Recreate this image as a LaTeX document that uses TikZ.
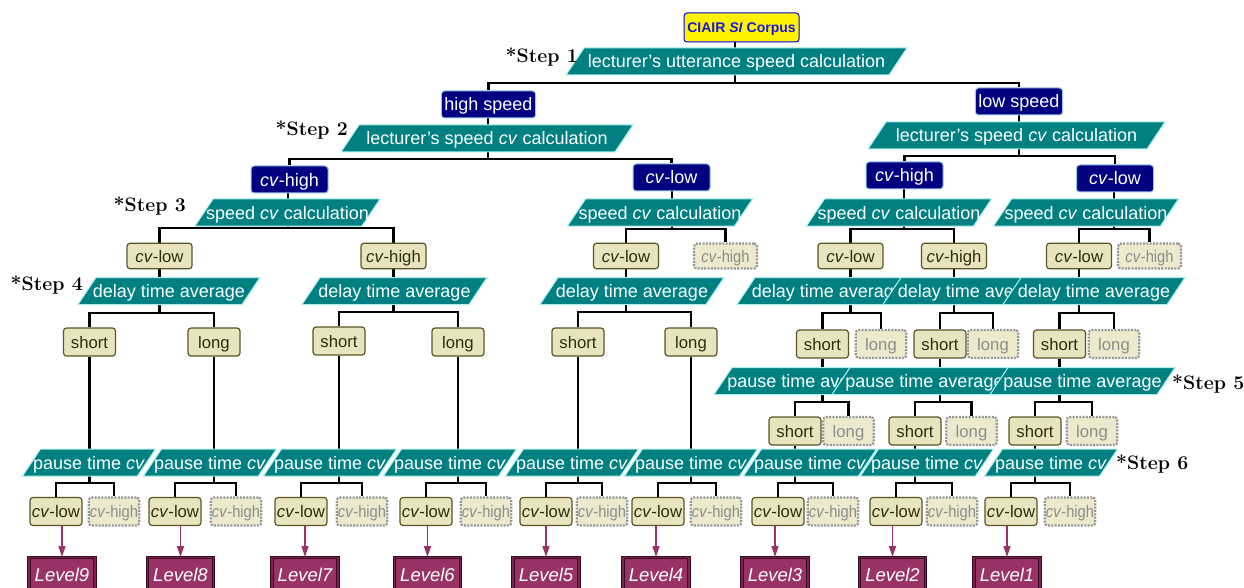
\documentclass[tikz,border=0pt]{standalone}
\usepackage{fontspec}
\newfontfamily\arial{Liberation Sans}
\usetikzlibrary{arrows.meta,backgrounds}
\definecolor{paraT}{RGB}{0,128,128}
\definecolor{paraB}{RGB}{170,240,240}
\definecolor{navyF}{RGB}{0,0,128}
\definecolor{navyB}{RGB}{150,200,235}
\definecolor{beigeF}{RGB}{232,228,190}
\definecolor{beigeB}{RGB}{90,85,40}
\definecolor{beigeT}{RGB}{45,45,15}
\definecolor{ghostF}{RGB}{236,233,205}
\definecolor{ghostB}{RGB}{150,150,150}
\definecolor{ghostT}{RGB}{140,140,140}
\definecolor{levelF}{RGB}{153,51,102}
\definecolor{levelD}{RGB}{55,10,35}
\definecolor{levelL}{RGB}{125,35,80}
\definecolor{rootB}{RGB}{0,0,230}
\definecolor{rootT}{RGB}{25,25,220}
\newcommand\ghtext{\scalebox{0.88}[1]{\textit{cv}-high}}
\newcommand\para[5]{%
  \filldraw[parastyle] ({#2-#4/2},{#3+13.5}) -- ({#2+#4/2-18},{#3+13.5}) -- ({#2+#4/2},{#3-13.5}) -- ({#2-#4/2+18},{#3-13.5}) -- cycle;
  \node[paratext] (#1) at (#2,#3) {#5};}
\begin{document}
\begin{tikzpicture}[x=1pt,y=-1pt,
  parastyle/.style={fill=paraT,draw=paraB,line width=1pt},
  paratext/.style={text=white,font=\arial\fontsize{18}{20}\selectfont,inner sep=0pt,minimum height=27pt,text height=14pt,text depth=1pt},
  rootbox/.style={fill=yellow,draw=rootB,text=rootT,rounded corners=3pt,minimum width=115pt,minimum height=29pt,inner sep=0pt,line width=1pt,text height=11pt,text depth=0.5pt,font=\arial\bfseries\fontsize{14}{16}\selectfont},
  navy/.style={fill=navyF,draw=navyB,text=white,rounded corners=3pt,minimum width=77pt,minimum height=27pt,inner xsep=3pt,inner ysep=0pt,line width=1pt,text height=14pt,text depth=1pt,font=\arial\fontsize{18}{20}\selectfont},
  beige/.style={fill=beigeF,draw=beigeB,text=beigeT,rounded corners=3pt,minimum width=52pt,minimum height=28pt,inner xsep=1pt,inner ysep=0pt,line width=1.2pt,text height=12.5pt,text depth=0.5pt,font=\arial\fontsize{16.7}{18}\selectfont},
  ghost/.style={beige,fill=ghostF,draw=ghostB,text=ghostT,dash pattern=on 2pt off 1.3pt,line width=2.2pt,minimum width=50.5pt},
  beigethree/.style={beige,minimum width=65pt,minimum height=25.5pt},
  ghostthree/.style={ghost,minimum width=63pt,minimum height=25pt},
  levelbox/.style={fill=levelF,draw=levelD,double=levelL,double distance=1.6pt,line width=0.9pt,text=white,minimum width=66pt,minimum height=36pt,inner sep=0pt,anchor=north,text height=14pt,text depth=1pt,font=\arial\itshape\fontsize{18.5}{20}\selectfont},
  stepl/.style={font=\bfseries\addfontfeatures{FakeBold=1.3}\fontsize{19.5}{20}\selectfont,inner sep=0pt},
  conn/.style={black,line width=2.2pt},
  arr/.style={levelF,line width=1.5pt,-{Triangle[length=11pt,width=7pt]}}]
\useasboundingbox (0,0) rectangle (1244,588);
\clip (0,0) rectangle (1244,588);

% root and step 1
\node[rootbox] (root) at (741.5,27.5) {CIAIR \textit{SI} Corpus};
\para{P1}{736.5}{61.5}{341}{lecturer’s utterance speed calculation}
\node[stepl,anchor=east] (s1) at (578,57) {*Step 1};

\node[navy] (hs) at (488.5,104.5) {high speed};
\node[navy] (ls) at (1019,101.5) {low speed};

% step 2
\para{P2L}{487}{138.5}{292}{lecturer’s speed \textit{cv} calculation}
\para{P2R}{1016.5}{135.5}{297}{lecturer’s speed \textit{cv} calculation}
\node[stepl,anchor=east] (s2) at (348,130) {*Step 2};

\node[navy] (cvhL) at (289.5,179.5) {\textit{cv}-high};
\node[navy] (cvlL) at (671.5,177.5) {\textit{cv}-low};
\node[navy] (cvhR) at (904.5,175.5) {\textit{cv}-high};
\node[navy] (cvlR) at (1115,178.5) {\textit{cv}-low};

% step 3
\para{P3a}{287.5}{212.5}{185}{speed \textit{cv} calculation}
\para{P3b}{660}{212.5}{185}{speed \textit{cv} calculation}
\para{P3c}{899}{212.5}{185}{speed \textit{cv} calculation}
\para{P3d}{1086}{212.5}{185}{speed \textit{cv} calculation}
\node[stepl,anchor=east] (s3) at (186,206) {*Step 3};

\node[beigethree] (b3a) at (159.5,256) {\textit{cv}-low};
\node[beigethree] (b3b) at (393.5,256) {\textit{cv}-high};
\node[beigethree] (b3c) at (626,256) {\textit{cv}-low};
\node[ghostthree] (b3d) at (725.5,256) {\ghtext};
\node[beigethree] (b3e) at (850.5,256) {\textit{cv}-low};
\node[beigethree] (b3f) at (954,256) {\textit{cv}-high};
\node[beigethree] (b3g) at (1079,256) {\textit{cv}-low};
\node[ghostthree] (b3h) at (1149.5,256) {\ghtext};

% step 4
\para{P4a}{169}{291}{182}{delay time average}
\para{P4b}{394.5}{291}{185}{delay time average}
\para{P4c}{632}{291}{184}{delay time average}
\para{P4d}{828}{291}{182}{delay time average}
\para{P4e}{974}{291}{182}{delay time average}
\para{P4f}{1094}{291}{182}{delay time average}
\node[stepl,anchor=east] (s4) at (83,285) {*Step 4};

\node[beige] (b4a) at (89.5,342) {short};
\node[beige] (b4b) at (214,342) {long};
\node[beige] (b4c) at (339,341) {short};
\node[beige] (b4d) at (458,342) {long};
\node[beige] (b4e) at (578,342) {short};
\node[beige] (b4f) at (691,342) {long};
\node[beige] (b4g) at (822.5,344) {short};
\node[ghost] (b4h) at (881,344) {long};
\node[beige] (b4i) at (940,344) {short};
\node[ghost] (b4j) at (993,344) {long};
\node[beige] (b4k) at (1059.5,344) {short};
\node[ghost] (b4l) at (1114,344) {long};

% step 5
\para{R1}{806.5}{381}{185}{pause time average}
\para{R2}{924.5}{381}{185}{pause time average}
\para{R3}{1082.5}{381}{185}{pause time average}
\node[stepl,anchor=west] (s5) at (1172,384) {*Step 5};

\node[beige] (b5a) at (795,431) {short};
\node[ghost] (b5b) at (848.5,431) {long};
\node[beige] (b5c) at (915,431) {short};
\node[ghost] (b5d) at (971.5,431) {long};
\node[beige] (b5e) at (1035,431) {short};
\node[ghost] (b5f) at (1092,431) {long};

% step 6
\para{Q1}{89}{462.5}{133}{pause time \textit{cv}}
\para{Q2}{210}{462.5}{133}{pause time \textit{cv}}
\para{Q3}{330}{462.5}{133}{pause time \textit{cv}}
\para{Q4}{450}{462.5}{133}{pause time \textit{cv}}
\para{Q5}{572}{462.5}{133}{pause time \textit{cv}}
\para{Q6}{691}{462.5}{133}{pause time \textit{cv}}
\para{Q7}{810}{462.5}{133}{pause time \textit{cv}}
\para{Q8}{927}{462.5}{133}{pause time \textit{cv}}
\para{Q9}{1051}{462.5}{133}{pause time \textit{cv}}
\node[stepl,anchor=west] (s6) at (1116,464) {*Step 6};

\foreach \i/\xl/\xh in {1/56/114,2/175/236,3/301/362,4/426/486,5/546/602,6/658/716,7/778/833,8/896/952,9/1011/1070}{
  \node[beige] (cl\i) at (\xl,511.5) {\textit{cv}-low};
  \node[ghost] (ch\i) at (\xh,511.5) {\ghtext};
}

% levels
\foreach \i/\x/\n in {1/62/9,2/180.5/8,3/305/7,4/427.5/6,5/546/5,6/656/4,7/775/3,8/892.5/2,9/1007/1}{
  \node[levelbox] (L\i) at (\x,557) {Level\n};
  \draw[arr] (L\i.north |- cl\i.south) -- (L\i.north);
}

% connectors
\begin{pgfonlayer}{background}
\coordinate (j1) at (735,83);
\draw[conn] (j1 |- root.south) -- (j1);
\draw[conn] (hs.north) |- (j1) -| (ls.north);
\coordinate (j2L) at (488,159);
\draw[conn] (j2L |- hs.south) -- (j2L);
\draw[conn] (cvhL.north) |- (j2L) -| (cvlL.north);
\coordinate (j2R) at (1019,156);
\draw[conn] (j2R |- ls.south) -- (j2R);
\draw[conn] (cvhR.north) |- (j2R) -| (cvlR.north);
\coordinate (j3a) at (288,228);
\draw[conn] (j3a |- cvhL.south) -- (j3a);
\draw[conn] (b3a.north) |- (j3a) -| (b3b.north);
\coordinate (j3b) at (672,229);
\draw[conn] (j3b |- cvlL.south) -- (j3b);
\draw[conn] (b3c.north) |- (j3b) -| (b3d.north);
\coordinate (j3c) at (904,229);
\draw[conn] (j3c |- cvhR.south) -- (j3c);
\draw[conn] (b3e.north) |- (j3c) -| (b3f.north);
\coordinate (j3d) at (1114,229);
\draw[conn] (j3d |- cvlR.south) -- (j3d);
\draw[conn] (b3g.north) |- (j3d) -| (b3h.north);
\coordinate (j4a) at (159.5,313);
\draw[conn] (b3a.south) -- (j4a);
\draw[conn] (b4a.north) |- (j4a) -| (b4b.north);
\coordinate (j4b) at (393.5,312);
\draw[conn] (b3b.south) -- (j4b);
\draw[conn] (b4c.north) |- (j4b) -| (b4d.north);
\coordinate (j4c) at (626,312);
\draw[conn] (b3c.south) -- (j4c);
\draw[conn] (b4e.north) |- (j4c) -| (b4f.north);
\coordinate (j4d) at (850.5,313);
\draw[conn] (b3e.south) -- (j4d);
\draw[conn] (b4g.north) |- (j4d) -| (b4h.north);
\coordinate (j4e) at (954,313);
\draw[conn] (b3f.south) -- (j4e);
\draw[conn] (b4i.north) |- (j4e) -| (b4j.north);
\coordinate (j4f) at (1079,313);
\draw[conn] (b3g.south) -- (j4f);
\draw[conn] (b4k.north) |- (j4f) -| (b4l.north);
\coordinate (j5a) at (822.5,402);
\draw[conn] (b4g.south) -- (j5a);
\draw[conn] (b5a.north) |- (j5a) -| (b5b.north);
\coordinate (j5b) at (940,402);
\draw[conn] (b4i.south) -- (j5b);
\draw[conn] (b5c.north) |- (j5b) -| (b5d.north);
\coordinate (j5c) at (1059.5,402);
\draw[conn] (b4k.south) -- (j5c);
\draw[conn] (b5e.north) |- (j5c) -| (b5f.north);
\foreach \i/\p in {1/b4a,2/b4b,3/b4c,4/b4d,5/b4e,6/b4f,7/b5a,8/b5c,9/b5e}{
  \coordinate (jq\i) at (\p.south |- 0,483);
  \draw[conn] (\p.south) -- (jq\i);
  \draw[conn] (cl\i.north) |- (jq\i) -| (ch\i.north);
}
\end{pgfonlayer}
\end{tikzpicture}
\end{document}
